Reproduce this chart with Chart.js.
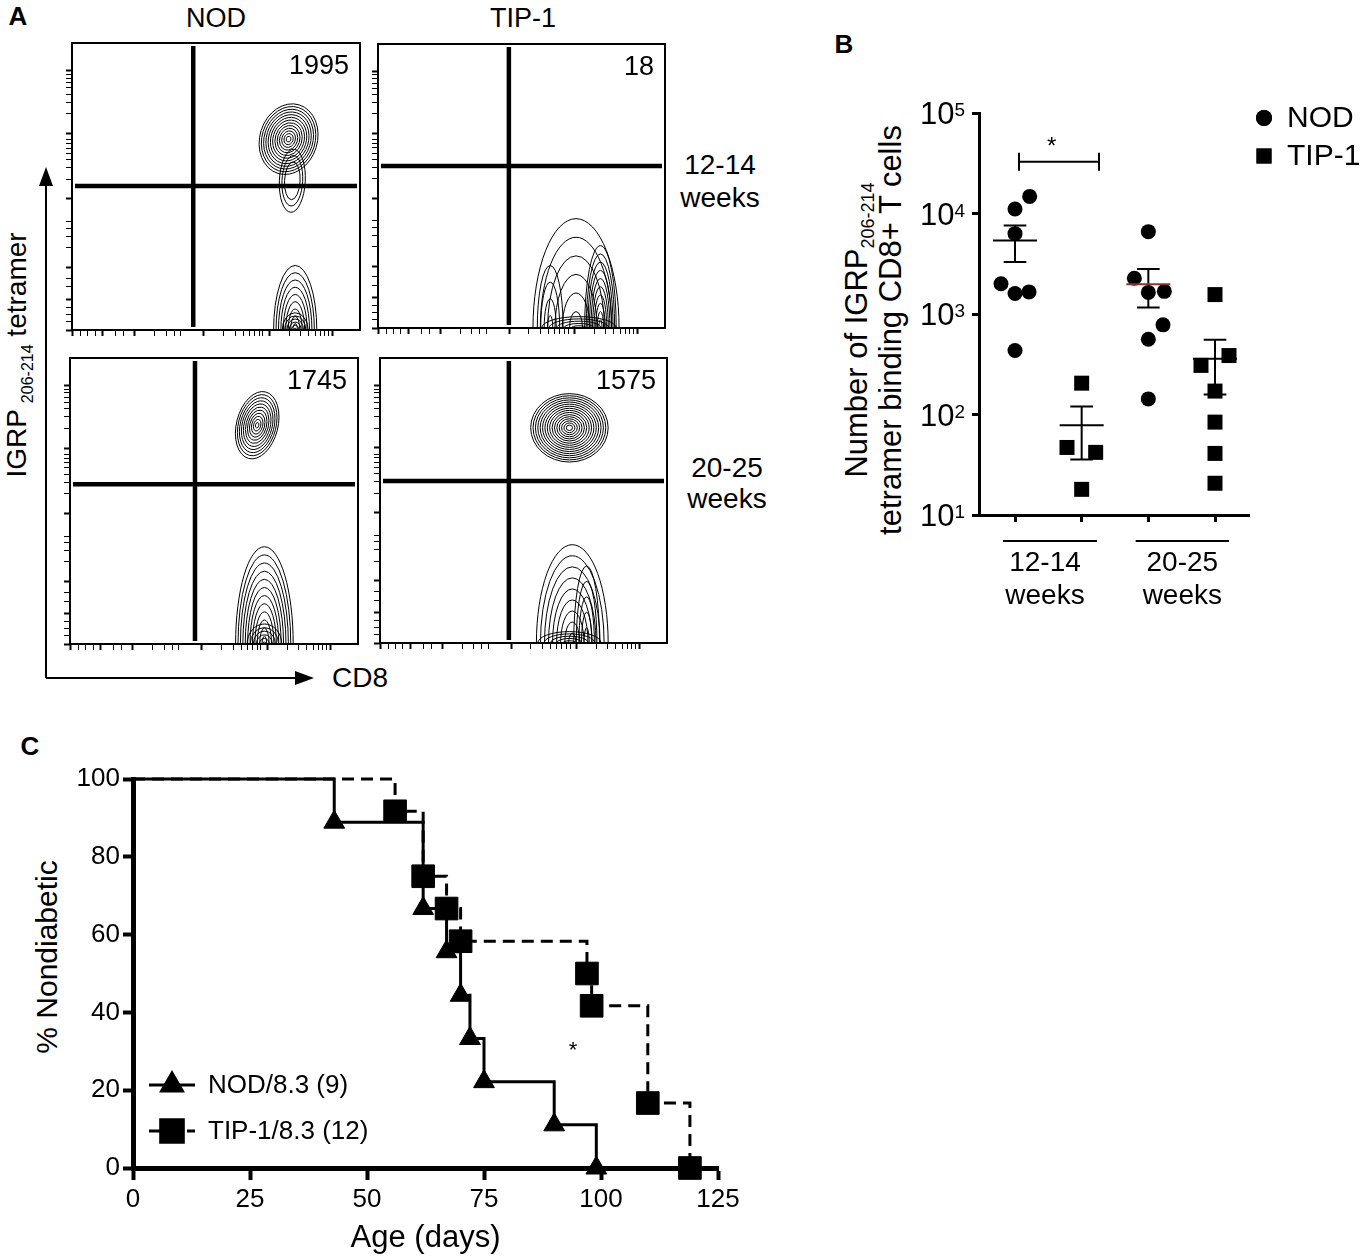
<!DOCTYPE html>
<html>
<head>
<meta charset="utf-8">
<title>IGRP tetramer / diabetes incidence</title>
<script src="https://cdn.jsdelivr.net/npm/chart.js@4.4.1/dist/chart.umd.min.js"></script>
<style>
  html, body { margin: 0; padding: 0; background: #fff; }
  body { width: 1362px; height: 1260px; position: relative; overflow: hidden;
         font-family: 'Liberation Sans', Arial, Helvetica, sans-serif; color: #000; }
  canvas { position: absolute; }
  .lbl { position: absolute; white-space: nowrap; line-height: 1; transform: translate(-50%, -50%); }
  .panel { font-weight: bold; font-size: 26px; }
  .rot { transform: translate(-50%, -50%) rotate(-90deg); text-align: center; }
  sub { line-height: 0; }
</style>
</head>
<body>
<!-- panel letters -->
<div class="lbl panel" style="left:18px;top:16px">A</div>
<div class="lbl panel" style="left:844px;top:44px">B</div>
<div class="lbl panel" style="left:30px;top:746px">C</div>

<!-- panel A text -->
<div class="lbl" style="left:216px;top:18px;font-size:27px">NOD</div>
<div class="lbl" style="left:523px;top:18px;font-size:27px">TIP-1</div>
<div class="lbl" style="left:720px;top:165px;font-size:28px">12-14</div>
<div class="lbl" style="left:720px;top:198px;font-size:28px">weeks</div>
<div class="lbl" style="left:727px;top:468px;font-size:28px">20-25</div>
<div class="lbl" style="left:727px;top:499px;font-size:28px">weeks</div>
<div class="lbl" style="left:360px;top:678px;font-size:28px">CD8</div>
<div class="lbl rot" style="left:17px;top:355px;font-size:28px">IGRP<sub style="font-size:16px;margin-left:6px">206-214</sub> tetramer</div>
<svg style="position:absolute;left:0;top:0" width="340" height="700">
  <line x1="46" y1="678" x2="46" y2="182" stroke="#000" stroke-width="2"/>
  <polygon points="46,167 39,186 53,186" fill="#000"/>
  <line x1="46" y1="678" x2="298" y2="678" stroke="#000" stroke-width="2"/>
  <polygon points="314,678 295,671 295,685" fill="#000"/>
</svg>

<!-- panel B y title -->
<div class="lbl rot" style="left:874px;top:330px;font-size:31px;line-height:34px">Number of IGRP<sub style="font-size:18px">206-214</sub><br>tetramer binding CD8+ T cells</div>

<!-- panel C y title -->
<div class="lbl rot" style="left:47px;top:957px;font-size:30px">% Nondiabetic</div>

<canvas id="f0"></canvas>
<canvas id="f1"></canvas>
<canvas id="f2"></canvas>
<canvas id="f3"></canvas>
<canvas id="chartB" width="532" height="540" style="left:830px;top:80px"></canvas>
<canvas id="chartC" width="740" height="505" style="left:20px;top:755px"></canvas>

<script>
// ---- Panel A: flow plots (channel units 0-1000 on both axes) ----
const flowEvents = ['1995', '18', '1745', '1575'];
const gateX = [421, 456, 434, 449];
const gateY = [502, 570, 559, 568];
const flowMajor = [0, 107, 218, 457, 685, 903];
const flowMinor = [30, 55, 80, 150, 180, 287, 327, 355, 377, 526, 566, 594, 616, 634, 650, 663, 754, 794, 822, 844, 862, 878, 891];
// populations: [centerX, centerY, radiusX, radiusY, tilt(rad), rings, innermost ring scale]
const popsNod1214 = [[752, 665, 100, 125, 0.3, 13, 0.08], [765, 520, 45, 110, 0.05, 3, 0.6], [775, 0, 75, 225, 0, 9, 0.1], [775, 0, 45, 60, 0, 6, 0.1]];
const popsTip1214 = [[690, 0, 150, 385, 0, 6, 0.15], [775, 0, 55, 290, 0, 10, 0.1], [600, 0, 45, 220, 0, 4, 0.2], [700, 0, 130, 40, 0, 5, 0.2]];
const popsNod2025 = [[650, 765, 72, 120, 0.25, 11, 0.08], [675, 0, 100, 340, 0, 12, 0.08], [675, 0, 60, 70, 0, 6, 0.1]];
const popsTip2025 = [[660, 755, 135, 120, 0, 16, 0.08], [670, 0, 125, 345, 0, 9, 0.1], [720, 0, 45, 270, 0, 5, 0.2], [660, 0, 110, 40, 0, 5, 0.2]];
const flowPops = [popsNod1214, popsTip1214, popsNod2025, popsTip2025];

// ---- Panel B: tetramer+ cell counts ----
const bGroups = ['12-14', '20-25'];
const bTicks = [10, 100, 1000, 10000, 100000];
const nod1214 = [14800, 11100, 6300, 2000, 1600, 1660, 433];
const nod1214Jit = [0.22, 0, 0, -0.21, 0, 0.21, 0];
const tip1214 = [205, 47, 42, 18];
const tip1214Jit = [0, -0.22, 0.21, 0];
const nod2025 = [6600, 2270, 1640, 1680, 780, 560, 143];
const nod2025Jit = [0, -0.21, 0, 0.24, 0.22, 0, 0];
const tip2025 = [1560, 308, 386, 171, 84, 41, 20.7];
const tip2025Jit = [0, -0.21, 0.21, 0, 0, 0, 0];
const bMean = [5400, 78, 1980, 358];
const bSemHi = [7600, 120, 2800, 553];
const bSemLo = [3300, 35.6, 1160, 158];

// ---- Panel C: Kaplan-Meier ----
const nodDays = [0, 43, 62, 67, 70, 72, 75, 90, 99];
const nodSurv = [100, 88.9, 66.7, 55.6, 44.4, 33.3, 22.2, 11.1, 0];
const tipDays = [0, 56, 62, 67, 70, 97, 98, 110, 119];
const tipSurv = [100, 91.7, 75, 66.7, 58.3, 50, 41.7, 16.7, 0];
const cTicksX = [0, 25, 50, 75, 100, 125];

Chart.defaults.font.family = "'Liberation Sans', Arial, Helvetica, sans-serif";
Chart.defaults.color = '#000';
Chart.defaults.animation = false;
Chart.defaults.plugins.legend.display = false;
Chart.defaults.plugins.tooltip.enabled = false;

// contour rings, quadrant gates, box and event count
const flowPlugin = {
  id: 'flow',
  afterDatasetsDraw(chart, args, opts) {
    const { ctx, chartArea: a, scales: { x, y } } = chart;
    ctx.save();
    ctx.beginPath();
    ctx.rect(a.left, a.top, a.right - a.left, a.bottom - a.top);
    ctx.clip();
    ctx.strokeStyle = '#000';
    ctx.lineWidth = 1;
    opts.pops.forEach(p => {
      const cx = x.getPixelForValue(p[0]);
      const cy = y.getPixelForValue(p[1]);
      const rx = Math.abs(x.getPixelForValue(p[0] + p[2]) - cx);
      const ry = Math.abs(y.getPixelForValue(p[1] + p[3]) - cy);
      const n = p[5], s0 = p[6];
      for (let k = 0; k < n; k++) {
        const s = n === 1 ? 1 : s0 + (1 - s0) * k / (n - 1);
        ctx.beginPath();
        ctx.ellipse(cx, cy, rx * s, ry * s, p[4], 0, Math.PI * 2);
        ctx.stroke();
      }
    });
    // quadrant gates
    ctx.lineWidth = 4.5;
    const gx = x.getPixelForValue(opts.gx);
    const gy = y.getPixelForValue(opts.gy);
    ctx.beginPath();
    ctx.moveTo(gx, a.top + 3); ctx.lineTo(gx, a.bottom - 3);
    ctx.moveTo(a.left + 3, gy); ctx.lineTo(a.right - 3, gy);
    ctx.stroke();
    ctx.restore();

    ctx.save();
    ctx.lineWidth = 2;
    ctx.strokeRect(a.left, a.top, a.right - a.left, a.bottom - a.top);
    ctx.font = "27px 'Liberation Sans', Arial, sans-serif";
    ctx.textAlign = 'right';
    ctx.textBaseline = 'middle';
    ctx.fillStyle = '#000';
    ctx.fillText(opts.events, a.right - 11, a.top + 24);
    ctx.restore();
  }
};

const flowAxis = () => ({
  type: 'linear', min: 0, max: 1000,
  afterBuildTicks: s => { s.ticks = flowMajor.concat(flowMinor).map(v => ({ value: v })); },
  afterFit: s => { if (s.isHorizontal()) s.height = 10; else s.width = 10; },
  ticks: { display: false },
  border: { display: false },
  grid: {
    drawOnChartArea: false, tickLength: 6, tickColor: '#000',
    tickWidth: c => (flowMajor.includes(c.tick.value) ? 2 : 1)
  }
});

const flowBoxes = [[72, 43, 360, 330], [378, 44, 665, 328], [70, 358, 358, 644], [380, 358, 667, 643]];
flowBoxes.forEach((b, i) => {
  const cv = document.getElementById('f' + i);
  cv.width = b[2] - b[0] + 13;
  cv.height = b[3] - b[1] + 13;
  cv.style.left = (b[0] - 10) + 'px';
  cv.style.top = (b[1] - 3) + 'px';
  new Chart(cv, {
    type: 'scatter',
    data: { datasets: [] },
    options: {
      responsive: false,
      layout: { padding: { top: 3, right: 3 } },
      scales: { x: flowAxis(), y: flowAxis() },
      plugins: { flow: { pops: flowPops[i], gx: gateX[i], gy: gateY[i], events: flowEvents[i] } }
    },
    plugins: [flowPlugin]
  });
});

// ---- Panel B ----
const jitter = (vals, jit, base) => vals.map((v, i) => ({ x: base + jit[i], y: v }));

const panelBPlugin = {
  id: 'panelB',
  afterDatasetsDraw(chart) {
    const { ctx, chartArea: a, scales: { x, y } } = chart;
    ctx.save();
    ctx.fillStyle = '#000';
    ctx.strokeStyle = '#000';
    // y tick labels 10^n
    ctx.textBaseline = 'alphabetic';
    bTicks.forEach(v => {
      const py = y.getPixelForValue(v);
      const exp = String(Math.round(Math.log10(v)));
      ctx.font = "19px 'Liberation Sans', Arial, sans-serif";
      ctx.textAlign = 'right';
      const supW = ctx.measureText(exp).width;
      ctx.fillText(exp, a.left - 14, py + 3);
      ctx.font = "31px 'Liberation Sans', Arial, sans-serif";
      ctx.fillText('10', a.left - 14 - supW, py + 11);
    });
    // mean and SEM bars
    ctx.lineWidth = 2;
    bMean.forEach((m, i) => {
      const px = x.getPixelForValue(i);
      const hw = x.getPixelForValue(i + 0.33) - px;
      const cw = x.getPixelForValue(i + 0.17) - px;
      const hi = y.getPixelForValue(bSemHi[i]);
      const lo = y.getPixelForValue(bSemLo[i]);
      ctx.strokeStyle = '#000';
      ctx.beginPath();
      ctx.moveTo(px, hi); ctx.lineTo(px, lo);
      ctx.moveTo(px - cw, hi); ctx.lineTo(px + cw, hi);
      ctx.moveTo(px - cw, lo); ctx.lineTo(px + cw, lo);
      ctx.stroke();
      ctx.strokeStyle = i === 2 ? '#8a3434' : '#000';
      const pm = y.getPixelForValue(m);
      ctx.beginPath();
      ctx.moveTo(px - hw, pm); ctx.lineTo(px + hw, pm);
      ctx.stroke();
    });
    // significance bracket
    ctx.strokeStyle = '#000';
    const sy = y.getPixelForValue(32700);
    const sx1 = x.getPixelForValue(0.06), sx2 = x.getPixelForValue(1.26);
    ctx.beginPath();
    ctx.moveTo(sx1, sy); ctx.lineTo(sx2, sy);
    ctx.moveTo(sx1, sy - 9); ctx.lineTo(sx1, sy + 9);
    ctx.moveTo(sx2, sy - 9); ctx.lineTo(sx2, sy + 9);
    ctx.stroke();
    ctx.font = "24px 'Liberation Sans', Arial, sans-serif";
    ctx.textAlign = 'center';
    ctx.textBaseline = 'middle';
    ctx.fillText('*', x.getPixelForValue(0.55), y.getPixelForValue(51600) + 5);
    // group lines and labels
    const spans = [[-0.18, 1.23], [1.81, 3.21]];
    const centers = [0.45, 2.51];
    ctx.lineWidth = 2;
    ctx.font = "28px 'Liberation Sans', Arial, sans-serif";
    spans.forEach((s, i) => {
      ctx.beginPath();
      ctx.moveTo(x.getPixelForValue(s[0]), a.bottom + 26);
      ctx.lineTo(x.getPixelForValue(s[1]), a.bottom + 26);
      ctx.stroke();
      const cx = x.getPixelForValue(centers[i]);
      ctx.fillText(bGroups[i], cx, a.bottom + 48);
      ctx.fillText('weeks', cx, a.bottom + 81);
    });
    // legend
    ctx.font = "30px 'Liberation Sans', Arial, sans-serif";
    ctx.textAlign = 'left';
    chart.data.datasets.forEach((ds, i) => {
      const ly = a.top + 5 + i * 38;
      Chart.helpers.drawPoint(ctx, { pointStyle: ds.pointStyle, radius: ds.pointStyle === 'rect' ? 10.6 : 8, rotation: 0, borderWidth: 0 }, a.right + 15, ly);
      ctx.fill();
      ctx.fillText(ds.label, a.right + 38, ly + 1);
    });
    ctx.restore();
  }
};

new Chart(document.getElementById('chartB'), {
  type: 'scatter',
  data: {
    datasets: [
      {
        label: 'NOD',
        data: jitter(nod1214, nod1214Jit, 0).concat(jitter(nod2025, nod2025Jit, 2)),
        pointStyle: 'circle', pointRadius: 7.5,
        backgroundColor: '#000', borderColor: '#000', borderWidth: 0
      },
      {
        label: 'TIP-1',
        data: jitter(tip1214, tip1214Jit, 1).concat(jitter(tip2025, tip2025Jit, 3)),
        pointStyle: 'rect', pointRadius: 10.6,
        backgroundColor: '#000', borderColor: '#000', borderWidth: 0
      }
    ]
  },
  options: {
    responsive: false,
    layout: { padding: { top: 33, right: 113 } },
    scales: {
      x: {
        type: 'linear', min: -0.54, max: 3.51,
        afterBuildTicks: s => { s.ticks = [0, 1, 2, 3].map(v => ({ value: v })); },
        afterFit: s => { s.height = 105; },
        ticks: { display: false },
        border: { color: '#000', width: 3 },
        grid: { drawOnChartArea: false, tickLength: 7, tickColor: '#000', tickWidth: 3 }
      },
      y: {
        type: 'logarithmic', min: 10, max: 100000,
        afterBuildTicks: s => { s.ticks = bTicks.map(v => ({ value: v })); },
        afterFit: s => { s.width = 149; },
        ticks: { display: false },
        border: { color: '#000', width: 3 },
        grid: { drawOnChartArea: false, tickLength: 7, tickColor: '#000', tickWidth: 3 }
      }
    }
  },
  plugins: [panelBPlugin]
});

// ---- Panel C ----
const kmLegendPlugin = {
  id: 'kmLegend',
  afterDatasetsDraw(chart) {
    const { ctx, chartArea: a, scales: { x, y } } = chart;
    ctx.save();
    ctx.fillStyle = '#000';
    ctx.strokeStyle = '#000';
    ctx.font = "26px 'Liberation Sans', Arial, sans-serif";
    ctx.textBaseline = 'middle';
    chart.data.datasets.forEach((ds, i) => {
      const ly = a.bottom - 83 + i * 46;
      ctx.lineWidth = 3;
      ctx.setLineDash(ds.borderDash || []);
      ctx.beginPath();
      ctx.moveTo(a.left + 16, ly); ctx.lineTo(a.left + 62, ly);
      ctx.stroke();
      ctx.setLineDash([]);
      Chart.helpers.drawPoint(ctx, { pointStyle: ds.pointStyle, radius: ds.pointRadius[1], rotation: 0, borderWidth: 1 }, a.left + 39, ly);
      ctx.fill();
      ctx.textAlign = 'left';
      ctx.fillText(ds.label, a.left + 75, ly + 1);
    });
    ctx.font = "22px 'Liberation Sans', Arial, sans-serif";
    ctx.textAlign = 'center';
    ctx.fillText('*', x.getPixelForValue(94), y.getPixelForValue(31) + 4);
    ctx.restore();
  }
};

const kmPoints = (days, surv) => days.map((d, i) => ({ x: d, y: surv[i] }));
const kmRadius = (days, r) => days.map((d, i) => (i === 0 ? 0 : r));

new Chart(document.getElementById('chartC'), {
  type: 'line',
  data: {
    datasets: [
      {
        label: 'NOD/8.3 (9)',
        data: kmPoints(nodDays, nodSurv),
        stepped: true, borderColor: '#000', borderWidth: 3,
        pointStyle: 'triangle', pointRadius: kmRadius(nodDays, 12),
        pointBackgroundColor: '#000', pointBorderColor: '#000', pointBorderWidth: 1,
        clip: false
      },
      {
        label: 'TIP-1/8.3 (12)',
        data: kmPoints(tipDays, tipSurv),
        stepped: true, borderColor: '#000', borderWidth: 3, borderDash: [12, 7],
        pointStyle: 'rect', pointRadius: kmRadius(tipDays, 16),
        pointBackgroundColor: '#000', pointBorderColor: '#000', pointBorderWidth: 1,
        clip: false
      }
    ]
  },
  options: {
    responsive: false,
    layout: { padding: { top: 24, right: 42 } },
    scales: {
      x: {
        type: 'linear', min: 0, max: 125,
        afterBuildTicks: s => { s.ticks = cTicksX.map(v => ({ value: v })); },
        afterFit: s => { s.height = 92; },
        ticks: { font: { size: 26 }, padding: 4, maxRotation: 0 },
        border: { color: '#000', width: 5 },
        grid: { drawOnChartArea: false, tickLength: 12, tickColor: '#000', tickWidth: 4 },
        title: { display: true, text: 'Age (days)', font: { size: 31 }, padding: { bottom: 3 } }
      },
      y: {
        type: 'linear', min: 0, max: 100,
        ticks: { stepSize: 20, font: { size: 26 }, padding: 3 },
        afterFit: s => { s.width = 113; },
        border: { color: '#000', width: 5 },
        grid: { drawOnChartArea: false, tickLength: 10, tickColor: '#000', tickWidth: 4 }
      }
    }
  },
  plugins: [kmLegendPlugin]
});
</script>
</body>
</html>
